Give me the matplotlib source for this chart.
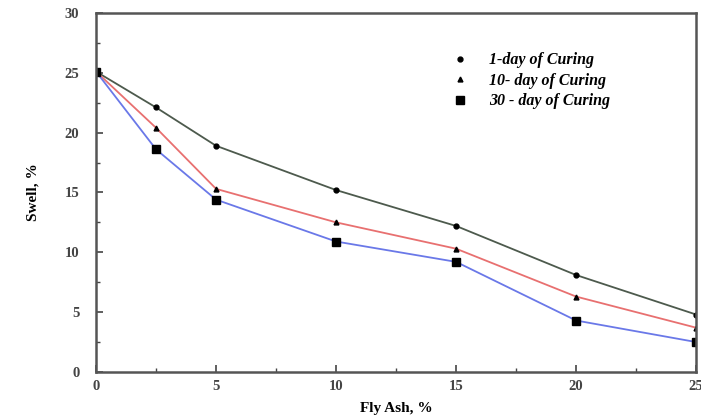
import numpy as np
import matplotlib
matplotlib.use("Agg")
import matplotlib.pyplot as plt
from matplotlib.ticker import MultipleLocator

fly_ash = [0, 2.5, 5, 10, 15, 20, 25]
swell_1day = [25.1, 22.1, 18.9, 15.2, 12.2, 8.1, 4.8]
swell_10day = [25.1, 20.4, 15.3, 12.5, 10.3, 6.3, 3.7]
swell_30day = [25.1, 18.6, 14.4, 10.9, 9.2, 4.3, 2.5]
labels = ["1-day of Curing", "10- day of Curing", "30 - day of Curing"]

plt.rcParams["font.family"] = ["Liberation Serif", "DejaVu Serif"]
plt.rcParams["font.weight"] = "bold"

fig = plt.figure(figsize=(7.01, 4.17), dpi=100)
ax = fig.add_axes([0.137, 0.108, 0.856, 0.861])

ax.plot(fly_ash, swell_1day, color="#4d5a4d", lw=1.3, marker="o", ms=3.5,
        mfc="black", mec="black", label=labels[0])
ax.plot(fly_ash, swell_10day, color="#e87070", lw=1.3, marker="^", ms=3.5,
        mfc="black", mec="black", label=labels[1])
ax.plot(fly_ash, swell_30day, color="#6a78e8", lw=1.3, marker="s", ms=5.5,
        mfc="black", mec="black", label=labels[2])

ax.set_xlim(0, 25)
ax.set_ylim(0, 30)
ax.xaxis.set_major_locator(MultipleLocator(5))
ax.xaxis.set_minor_locator(MultipleLocator(2.5))
ax.yaxis.set_major_locator(MultipleLocator(5))
ax.yaxis.set_minor_locator(MultipleLocator(2.5))
ax.tick_params(which="both", direction="in", colors="#444444", labelsize=10.5)
ax.tick_params(which="major", length=5, width=1.2)
ax.tick_params(which="minor", length=3, width=1)
ax.tick_params(axis="y", pad=12)
ax.tick_params(axis="x", pad=6)
for s in ax.spines.values():
    s.set_color("#555555")
    s.set_linewidth(1.8)

ax.set_xlabel("Fly Ash, %", fontsize=11, fontweight="bold", labelpad=6)
ax.set_ylabel("Swell, %", fontsize=11, fontweight="bold", labelpad=18)

leg = ax.legend(loc="upper right", bbox_to_anchor=(0.88, 0.93), frameon=False,
                prop={"style": "italic", "weight": "bold", "size": 11.5},
                handlelength=0.8, handletextpad=1.4, labelspacing=0.28)
for h in leg.legend_handles:
    h.set_linestyle("none")

fig.savefig("out.png", dpi=100)
